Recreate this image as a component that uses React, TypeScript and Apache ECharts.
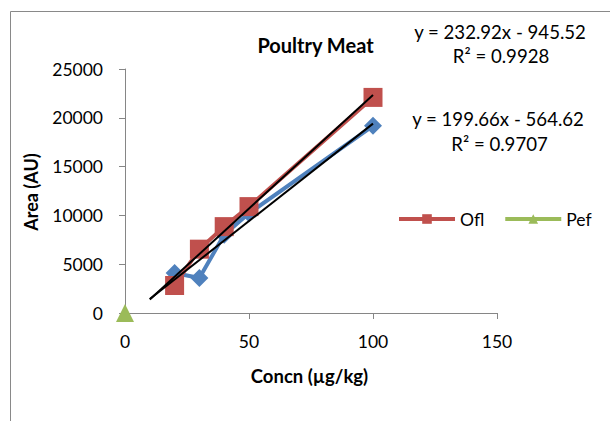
import React, { useEffect, useRef } from "react";
import * as echarts from "echarts";

const concBlue = [20, 30, 40, 50, 100];
const areaBlue = [4090, 3580, 8030, 10210, 19180];
const concOfl = [20, 30, 40, 50, 100];
const areaOfl = [2820, 6540, 8850, 10900, 22090];
const concPef = [0];
const areaPef = [0];
const trendOfl = { slope: 232.92, intercept: -945.52 };
const trendBlue = { slope: 199.66, intercept: -564.62 };
const trendRange = [10, 100];
const xTicks = { min: 0, max: 150, interval: 50 };
const yTicks = { min: 0, max: 25000, interval: 5000 };

const FONT = "Lato";

export default function App() {
  const ref = useRef<HTMLDivElement>(null);
  useEffect(() => {
    if (!ref.current) return;
    const chart = echarts.init(ref.current, null, { renderer: "svg" });
    const pairs = (xs: number[], ys: number[]) => xs.map((x, i) => [x, ys[i]]);
    const trend = (t: { slope: number; intercept: number }) =>
      trendRange.map((x) => [x, t.slope * x + t.intercept]);
    const axisLine = { lineStyle: { color: "#868686", width: 1 } };
    chart.setOption({
      animation: false,
      backgroundColor: "#ffffff",
      textStyle: { fontFamily: FONT },
      grid: { left: 125, right: 113, top: 69, bottom: 108, containLabel: false },
      xAxis: {
        type: "value",
        min: xTicks.min,
        max: xTicks.max,
        interval: xTicks.interval,
        axisLine: { show: true, ...axisLine },
        axisTick: { show: true, length: 6, lineStyle: { color: "#868686" } },
        splitLine: { show: false },
        axisLabel: { color: "#000", fontSize: 17.5, fontFamily: FONT, margin: 19 },
      },
      yAxis: {
        type: "value",
        min: yTicks.min,
        max: yTicks.max,
        interval: yTicks.interval,
        axisLine: { show: true, ...axisLine },
        axisTick: { show: true, length: 6, lineStyle: { color: "#868686" } },
        splitLine: { show: false },
        axisLabel: {
          color: "#000",
          fontSize: 17.5,
          fontFamily: FONT,
          margin: 22,
          formatter: (v: number) => String(v),
        },
      },
      legend: {
        data: ["Ofl", "Pef"],
        left: 397,
        top: 210,
        padding: 0,
        itemWidth: 56,
        itemHeight: 12,
        itemGap: 19,
        lineStyle: { width: 4 },
        textStyle: { color: "#000", fontSize: 17.5, fontFamily: FONT },
      },
      series: [
        {
          name: "Series 1",
          type: "line",
          data: pairs(concBlue, areaBlue),
          symbol: "diamond",
          symbolSize: 18,
          itemStyle: { color: "#4F81BD" },
          lineStyle: { color: "#4F81BD", width: 4 },
          z: 2,
        },
        {
          name: "Ofl",
          type: "line",
          data: pairs(concOfl, areaOfl),
          symbol: "rect",
          symbolSize: 19,
          itemStyle: { color: "#C0504D" },
          lineStyle: { color: "#C0504D", width: 4 },
          z: 3,
        },
        {
          name: "Pef",
          type: "line",
          data: pairs(concPef, areaPef),
          symbol: "triangle",
          symbolSize: 18,
          clip: false,
          itemStyle: { color: "#9BBB59" },
          lineStyle: { color: "#9BBB59", width: 4 },
          z: 4,
        },
        {
          name: "Trend Ofl",
          type: "line",
          data: trend(trendOfl),
          symbol: "none",
          lineStyle: { color: "#000", width: 2 },
          z: 5,
        },
        {
          name: "Trend Blue",
          type: "line",
          data: trend(trendBlue),
          symbol: "none",
          lineStyle: { color: "#000", width: 2 },
          z: 5,
        },
      ],
      graphic: [
        {
          type: "rect",
          shape: { x: 10.5, y: 11.5, width: 700, height: 500 },
          style: { fill: "none", stroke: "#898989", lineWidth: 1 },
          silent: true,
        },
        {
          type: "text",
          x: 315.5,
          y: 45,
          style: { text: "Poultry Meat", fontFamily: FONT, fontSize: 20, fontWeight: "bold", fill: "#000", align: "center", verticalAlign: "middle" },
        },
        {
          type: "text",
          x: 500,
          y: 32,
          style: { text: "y = 232.92x - 945.52", fontFamily: FONT, fontSize: 18.6, fill: "#000", align: "center", verticalAlign: "middle" },
        },
        {
          type: "text",
          x: 501,
          y: 56,
          style: { text: "R² = 0.9928", fontFamily: FONT, fontSize: 18.6, fill: "#000", align: "center", verticalAlign: "middle" },
        },
        {
          type: "text",
          x: 498,
          y: 119,
          style: { text: "y = 199.66x - 564.62", fontFamily: FONT, fontSize: 18.6, fill: "#000", align: "center", verticalAlign: "middle" },
        },
        {
          type: "text",
          x: 499.5,
          y: 144,
          style: { text: "R² = 0.9707", fontFamily: FONT, fontSize: 18.6, fill: "#000", align: "center", verticalAlign: "middle" },
        },
        {
          type: "text",
          x: 31,
          y: 192,
          rotation: Math.PI / 2,
          style: { text: "Area (AU)", fontFamily: FONT, fontSize: 18, fontWeight: "bold", fill: "#000", align: "center", verticalAlign: "middle" },
        },
        {
          type: "text",
          x: 309.5,
          y: 376,
          style: { text: "Concn (µg/kg)", fontFamily: FONT, fontSize: 18.5, fontWeight: "bold", fill: "#000", align: "center", verticalAlign: "middle" },
        },
      ],
    });
    return () => chart.dispose();
  }, []);
  return (
    <div
      ref={ref}
      style={{ position: "fixed", left: 0, top: 0, width: 610, height: 421, background: "#fff" }}
    />
  );
}
